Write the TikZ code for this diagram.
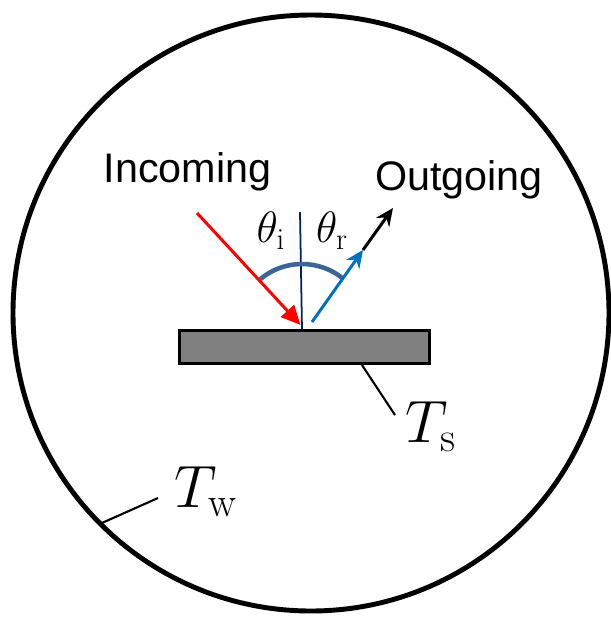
\documentclass[tikz,border=0pt]{standalone}
\usepackage{fix-cm}
\usepackage{fontspec}
\newfontfamily\labelfont{Liberation Sans}
\usepackage{tikz}
\usetikzlibrary{arrows.meta,calc,positioning}

\definecolor{rayred}{RGB}{255,0,0}
\definecolor{rayblue}{RGB}{0,112,192}
\definecolor{arcblue}{RGB}{60,100,150}
\definecolor{normalnavy}{RGB}{0,32,96}
\definecolor{platefill}{RGB}{128,128,128}

\begin{document}
\begin{tikzpicture}[>={Stealth[length=10pt,width=9pt]},
  every node/.style={inner sep=0pt,outer sep=0pt},
  word/.style={font=\labelfont\fontsize{23.5}{28}\selectfont,anchor=base},
  angle/.style={font=\fontsize{25}{30}\selectfont},
  temp/.style={font=\fontsize{34}{40}\selectfont},
  leader/.style={draw,line width=1.2pt},
  ray/.style={line width=1.7pt}]

\useasboundingbox (0,0) rectangle (12.22,-12.34);

% Wand und Probe
\node[draw, line width=2.8pt, circle, minimum size=11.92cm] (wall) at (6.22,-6.26) {};
\node[draw, line width=1.7pt, fill=platefill, rectangle,
  minimum width=5.0cm, minimum height=0.66cm] (plate) at (6.09,-6.94) {};

% Auftreffpunkt und Strahlenpunkte
\coordinate (hit) at (6.04,-6.58);
\coordinate (top) at (6.00,-4.24);
\coordinate (inStart) at (3.94,-4.26);
\coordinate (inEnd) at (6.01,-6.50);
\coordinate (outStart) at (6.24,-6.44);
\coordinate (outMid) at (7.26,-5.00);
\coordinate (outEnd) at (7.86,-4.16);

% Normale und Winkel
\draw[normalnavy, line width=1pt] (top) -- (hit);
\draw[arcblue, line width=2.6pt] ($(hit)+(130:1.3)$) arc[start angle=130, end angle=51, radius=1.3];

% Strahlen
\draw[ray, rayred, -{Triangle[length=11pt,width=10pt]}] (inStart) -- (inEnd);
\draw[ray, rayblue, ->] (outStart) -- (outMid);
\draw[ray, black, ->] (outMid) -- (outEnd);

% Beschriftungen
\node[word] (incoming) at (3.75,-3.64) {Incoming};
\node[word] (outgoing) at (9.18,-3.80) {Outgoing};
\node[angle] (thetaI) at (5.42,-4.62) {$\theta_\mathrm{i}$};
\node[angle] (thetaR) at (6.64,-4.62) {$\theta_\mathrm{r}$};
\node[temp] (Ts) at (8.62,-8.54) {$T_\mathrm{s}$};
\node[temp] (Tw) at (4.12,-9.84) {$T_\mathrm{w}$};

% Zuordnungslinien
\coordinate (tsFoot) at (7.24,-7.30);
\coordinate (tsHead) at (7.90,-8.30);
\coordinate (twHead) at (3.16,-9.96);
\draw[leader] (tsFoot) -- (tsHead);
\draw[leader] (wall.225) -- (twHead);

\end{tikzpicture}
\end{document}
